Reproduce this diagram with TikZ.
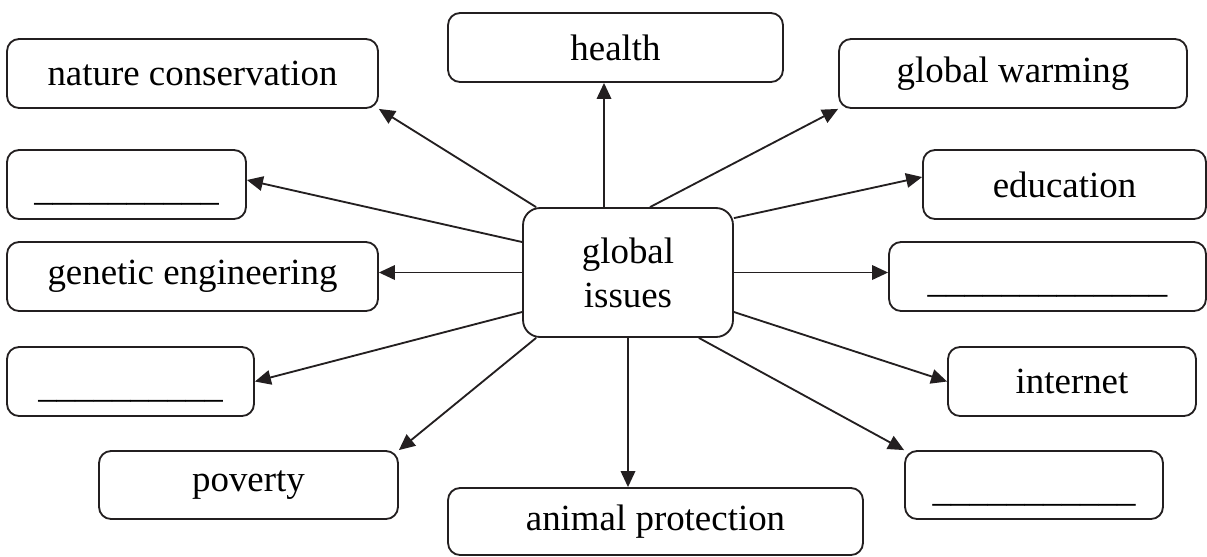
\documentclass[tikz,border=0pt]{standalone}
\usepackage{fontspec}
\setmainfont{Liberation Serif}
\usetikzlibrary{arrows.meta,calc}
\definecolor{ink}{HTML}{231F20}
\newcommand{\blankline}[1]{\rule{0pt}{21pt}\foreach \i in {1,...,#1}{\_}}
\begin{document}
\begin{tikzpicture}[x=0.02cm,y=-0.02cm,
  box/.style={draw=ink,line width=1.05pt,rounded corners=0.24cm,inner sep=0pt,
    minimum height=1.38cm,font=\fontsize{21}{25}\selectfont,text=black,align=center},
  arr/.style={draw=ink,line width=1.05pt,-{Triangle[length=0.32cm,width=0.29cm]}}]
\useasboundingbox (0,0) rectangle (1207,556);

\node[box,rounded corners=0.34cm,minimum width=4.2cm,minimum height=2.58cm] (c) at (628,272.5) {global\\issues};

\node[box,minimum width=6.70cm] (health) at (615.5,47.5) {health};
\node[box,minimum width=7.42cm] (nat) at (192.5,73.5) {nature conservation};
\node[box,minimum width=6.96cm] (gw) at (1013,73.5) {global warming};
\node[box,minimum width=4.78cm] (bl1) at (126.5,184.5) {\blankline{10}};
\node[box,minimum width=5.66cm] (edu) at (1064.5,184.5) {education};
\node[box,minimum width=7.42cm] (gen) at (192.5,276.5) {genetic engineering};
\node[box,minimum width=6.34cm] (br2) at (1047.5,276.5) {\blankline{13}};
\node[box,minimum width=4.94cm] (bl3) at (130.5,381.5) {\blankline{10}};
\node[box,minimum width=4.96cm] (int) at (1072,381.5) {internet};
\node[box,minimum width=5.98cm,minimum height=1.36cm] (pov) at (248.5,485) {poverty};
\node[box,minimum width=5.16cm,minimum height=1.36cm] (br4) at (1034,485) {\blankline{11}};
\node[box,minimum width=8.30cm,minimum height=1.34cm] (ani) at (655.5,521.5) {animal protection};

\draw[arr] ([xshift=0.28cm]c.north west) -- (nat.south east);
\draw[arr] ([xshift=-0.48cm]c.north) -- ([xshift=-0.23cm]health.south);
\draw[arr] ([xshift=0.44cm]c.north) -- (gw.south west);
\draw[arr] ([yshift=-0.22cm]c.north east) -- ([yshift=0.15cm]edu.west);
\draw[arr] ([yshift=0.61cm]c.west) -- ([yshift=0.09cm]bl1.east);
\draw[arr] (c.west) -- (c.west -| gen.east);
\draw[arr] (c.east) -- (c.east -| br2.west);
\draw[arr] ([yshift=-0.79cm]c.west) -- (bl3.east);
\draw[arr] ([yshift=-0.79cm]c.east) -- (int.west);
\draw[arr] ([xshift=0.28cm]c.south west) -- (pov.north east);
\draw[arr] ([xshift=-0.7cm]c.south east) -- (br4.north west);
\draw[arr] (c.south) -- (c.south |- ani.north);
\end{tikzpicture}
\end{document}
